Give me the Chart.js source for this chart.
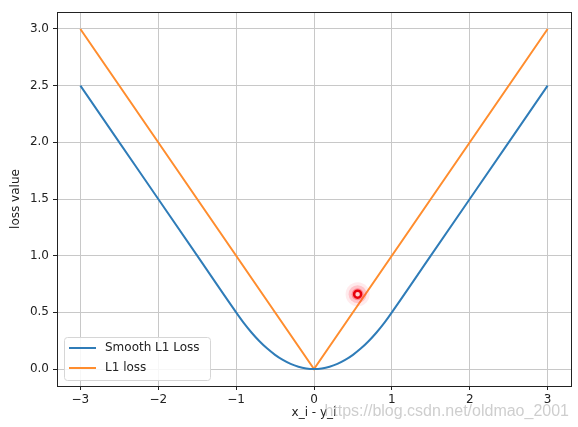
<!DOCTYPE html>
<html>
<head>
<meta charset="utf-8">
<script src="https://cdn.jsdelivr.net/npm/chart.js@4/dist/chart.umd.min.js"></script>
<style>
  html, body { margin: 0; padding: 0; background: #fff; }
  #wrap { width: 578px; height: 427px; }
</style>
</head>
<body>
<div id="wrap"><canvas id="lossChart" width="578" height="427"></canvas></div>
<script>
// x positions (x_i - y_i)
const xs = [-3, -2.5, -2, -1.5, -1, -0.9, -0.8, -0.7, -0.6, -0.5, -0.4, -0.3, -0.2, -0.1, 0,
            0.1, 0.2, 0.3, 0.4, 0.5, 0.6, 0.7, 0.8, 0.9, 1, 1.5, 2, 2.5, 3];
// values
const smoothL1 = [2.5, 2.0, 1.5, 1.0, 0.5, 0.405, 0.32, 0.245, 0.18, 0.125, 0.08, 0.045, 0.02, 0.005, 0,
                  0.005, 0.02, 0.045, 0.08, 0.125, 0.18, 0.245, 0.32, 0.405, 0.5, 1.0, 1.5, 2.0, 2.5];
const l1X = [-3, 0, 3];
const l1 = [3, 0, 3];
// cursor highlight in the screenshot
const cursorPt = [{ x: 0.56, y: 0.66 }];

const xTicks = [-3, -2, -1, 0, 1, 2, 3];
const yTicks = [0, 0.5, 1, 1.5, 2, 2.5, 3];

const font = { family: 'DejaVu Sans', size: 12 };

// full black frame around the axes + legend + watermark
const framePlugin = {
    id: 'frame',
    afterDatasetsDraw(chart) {
        const { ctx, chartArea: a } = chart;
        ctx.save();
        // legend
        const bx = a.left + 7, by = a.bottom - 49, bw = 146, bh = 43;
        ctx.fillStyle = 'rgba(255,255,255,0.85)';
        ctx.strokeStyle = '#d6d6d6';
        ctx.lineWidth = 1;
        ctx.beginPath();
        ctx.roundRect(bx + 0.5, by + 0.5, bw, bh, 3);
        ctx.fill();
        ctx.stroke();
        const items = chart.data.datasets.filter(d => d.inLegend);
        ctx.font = '12px "DejaVu Sans"';
        ctx.textBaseline = 'middle';
        items.forEach((d, i) => {
            const y = by + 11 + i * 20;
            ctx.strokeStyle = d.borderColor;
            ctx.lineWidth = 2;
            ctx.beginPath();
            ctx.moveTo(bx + 5, y);
            ctx.lineTo(bx + 32, y);
            ctx.stroke();
            ctx.fillStyle = '#222';
            ctx.fillText(d.label, bx + 41, y);
        });
        ctx.restore();
    },
    afterDraw(chart) {
        const { ctx, chartArea: a } = chart;
        ctx.save();
        ctx.strokeStyle = '#222';
        ctx.lineWidth = 1;
        ctx.strokeRect(a.left + 0.5, a.top + 0.5, a.right - a.left, a.bottom - a.top);
        ctx.font = '16px "Liberation Sans"';
        ctx.fillStyle = 'rgba(185,185,185,0.7)';
        ctx.textAlign = 'right';
        ctx.textBaseline = 'alphabetic';
        ctx.fillText('https://blog.csdn.net/oldmao_2001', 569, 416);
        ctx.restore();
    }
};

const ctx = document.getElementById('lossChart').getContext('2d');
new Chart(ctx, {
    type: 'scatter',
    data: {
        datasets: [
            {
                label: 'cursor',
                data: cursorPt,
                pointRadius: 3.5,
                pointBorderWidth: 2.5,
                pointBackgroundColor: '#ffd0d0',
                pointBorderColor: '#e8000b',
                order: -4
            },
            {
                label: 'glow1',
                data: cursorPt,
                pointRadius: 6,
                pointBorderWidth: 0,
                pointBackgroundColor: 'rgba(255,30,50,0.35)',
                order: -3
            },
            {
                label: 'glow2',
                data: cursorPt,
                pointRadius: 9,
                pointBorderWidth: 0,
                pointBackgroundColor: 'rgba(255,40,60,0.2)',
                order: -2
            },
            {
                label: 'glow3',
                data: cursorPt,
                pointRadius: 12,
                pointBorderWidth: 0,
                pointBackgroundColor: 'rgba(255,60,80,0.1)',
                order: -1
            },
            {
                label: 'Smooth L1 Loss',
                inLegend: true,
                data: xs.map((x, i) => ({ x: x, y: smoothL1[i] })),
                showLine: true,
                borderColor: '#2f7cb8',
                borderWidth: 2,
                pointRadius: 0,
                cubicInterpolationMode: 'monotone'
            },
            {
                label: 'L1 loss',
                inLegend: true,
                data: l1X.map((x, i) => ({ x: x, y: l1[i] })),
                showLine: true,
                borderColor: '#ff8d2e',
                borderWidth: 2,
                pointRadius: 0
            }
        ]
    },
    options: {
        responsive: false,
        animation: false,
        layout: { autoPadding: false, padding: { top: 12, right: 7, left: 0, bottom: 0 } },
        plugins: {
            legend: { display: false },
            tooltip: { enabled: false }
        },
        scales: {
            x: {
                type: 'linear',
                min: -3.3,
                max: 3.3,
                afterBuildTicks: s => { s.ticks = xTicks.map(v => ({ value: v })); },
                afterFit: s => { s.height = 41; s.paddingLeft = 0; s.paddingRight = 0; },
                grid: { color: '#c8c8c8', tickColor: '#222', tickLength: 4, lineWidth: 1 },
                border: { display: false },
                ticks: {
                    font: font, color: '#222', padding: 3, maxRotation: 0,
                    callback: v => (v < 0 ? '\u2212' + Math.abs(v) : String(v))
                },
                title: { display: true, text: 'x_i - y_i', font: font, color: '#222', padding: { top: 0, bottom: 7 } }
            },
            y: {
                type: 'linear',
                min: -0.15,
                max: 3.15,
                afterBuildTicks: s => { s.ticks = yTicks.map(v => ({ value: v })); },
                afterFit: s => { s.width = 57; s.paddingTop = 0; s.paddingBottom = 0; },
                grid: { color: '#c8c8c8', tickColor: '#222', tickLength: 4, lineWidth: 1 },
                border: { display: false },
                ticks: { font: font, color: '#222', padding: 4, callback: v => v.toFixed(1) },
                title: { display: true, text: 'loss value', font: font, color: '#222', padding: { top: 9, bottom: 0 } }
            }
        }
    },
    plugins: [framePlugin]
});
</script>
</body>
</html>
